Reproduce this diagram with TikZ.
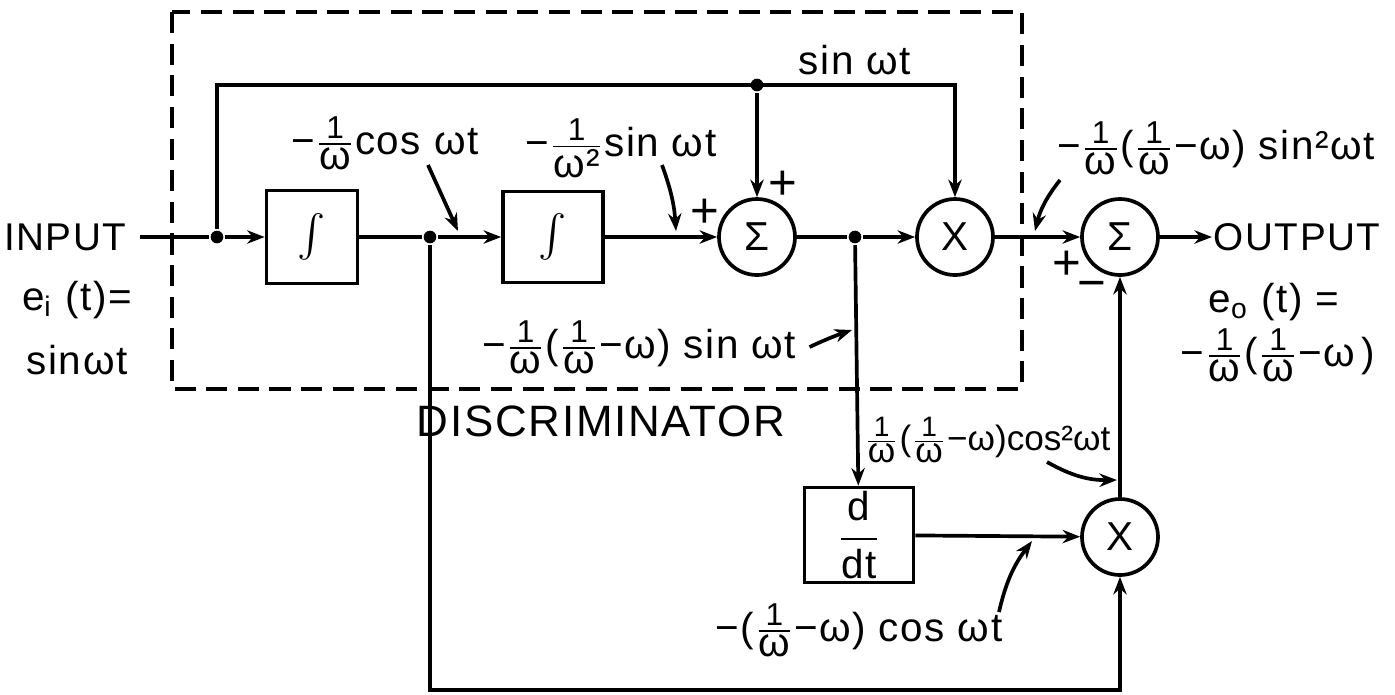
\documentclass[tikz,border=0pt]{standalone}
\usepackage{amsmath}
\usepackage{fontspec}
\setmainfont{Liberation Sans}[LetterSpace=4]
\newfontfamily\tightfont{Liberation Sans}
\usetikzlibrary{arrows.meta, shapes.geometric}
\newcommand{\fr}[2]{$\frac{\text{\fontsize{9}{9}\selectfont #1}}{\text{\fontsize{11.5}{12}\selectfont #2}}$}
\newcommand{\frs}[2]{$\frac{\text{\fontsize{8}{9}\selectfont #1}}{\text{\fontsize{10}{11}\selectfont #2}}$}

\begin{document}
\begin{tikzpicture}[x=0.1mm, y=-0.1mm, >={Stealth[length=5pt,width=3.8pt]}, line width=1.05pt,
    font=\fontsize{11.5}{13}\selectfont,
    blockbox/.style={draw, inner sep=0pt},
    opcirc/.style={draw, circle, minimum size=7.6mm, inner sep=0pt},
    dot/.style={circle, fill, inner sep=0pt, minimum size=3.6pt},
    sgn/.style={font=\fontsize{14}{14}\selectfont, inner sep=0pt},
    capstext/.style={font=\fontsize{11}{13}\selectfont}]
    \useasboundingbox (0,0) rectangle (1395,694);

    % discriminator frame
    \draw[line width=0.9pt, dash pattern=on 6pt off 3pt] (172,12) rectangle (1022,389);
    \node[font=\fontsize{12.5}{14}\selectfont] (disc) at (601,421) {DISCRIMINATOR};

    % input side
    \node[capstext, anchor=east] (inp) at (140,237) {INPUT};
    \node (eil) at (77,300) {e\textsubscript{i} (t)=};
    \node (eis) at (77,360) {sinωt};

    \node[dot] (j1) at (217,237) {};
    \node[blockbox, minimum width=9.1mm, minimum height=9.3mm] (int1) at (312,237) {\large$\int$};
    \node[dot] (j2) at (430,237) {};
    \node[blockbox, minimum width=10mm, minimum height=9.1mm] (int2) at (553,237) {\large$\int$};
    \node[opcirc] (sum1) at (757,237) {Σ};
    \node[dot] (tj) at (757,85) {};
    \coordinate (tc) at (955,85);
    \node[dot] (j3) at (855,237) {};
    \node[opcirc] (mul1) at (955,237) {X};
    \node[opcirc] (sum2) at (1120,237) {Σ};
    \node[blockbox, minimum width=10.9mm, minimum height=9.5mm] (ddt) at (859,535) {$\displaystyle\frac{\text{d}}{\text{dt}}$};
    \node[opcirc] (mul2) at (1120,537) {X};
    \coordinate (bc) at (1120,690);

    % output side
    \node[capstext, anchor=west, inner sep=0pt] (outp) at (1212,237) {OUTPUT};
    \node (eol) at (1274,302) {e\textsubscript{o} (t) =};
    \node (eos) at (1278,355) {−\fr{1}{ω}(\fr{1}{ω}−ω\,)};

    % signs
    \node[sgn] (s1) at (705,213) {+};
    \node[sgn] (s2) at (783,185) {+};
    \node[sgn] (s3) at (1067,265) {+};
    \node[sgn] (s4) at (1092,290) {−};

    % signal paths
    \draw (inp) -- (j1);
    \draw[->] (j1) -- (int1);
    \draw[->] (j1) |- (tc) -- (mul1);
    \draw[->] (tj) -- (sum1);
    \draw (int1) -- (j2);
    \draw[->] (j2) -- (int2);
    \draw[->] (int2) -- (sum1);
    \draw (sum1) -- (j3);
    \draw[->] (j3) -- (mul1);
    \draw[->] (mul1) -- (sum2);
    \draw[->] (sum2) -- (outp);
    \draw[->] (j3) -- (ddt);
    \draw[->] (ddt) -- (mul2);
    \draw[->] (mul2) -- (sum2);
    \draw[->] (j2) |- (bc) -- (mul2);

    % signal labels
    \node (lcos) at (385,143) {−\fr{1}{ω}cos ωt};
    \coordinate (pcos) at (428,165);
    \coordinate (qcos) at (458,231);
    \draw[->] (pcos) -- (qcos);

    \node (lsin) at (621,148) {−\fr{1}{ω²}sin ωt};
    \coordinate (psin) at (662,165);
    \coordinate (qsin) at (676,231);
    \draw[->] (psin) to[bend left=8] (qsin);

    \node (ltop) at (855,60) {sin ωt};

    \node (lsq) at (1216,148) {−\fr{1}{ω}(\fr{1}{ω}−ω) sin²ωt};
    \coordinate (psq) at (1060,180);
    \coordinate (qsq) at (1035,231);
    \draw[->] (psq) to[bend right=12] (qsq);

    \node (lmid) at (639,347) {−\fr{1}{ω}(\fr{1}{ω}−ω) sin ωt};
    \coordinate (qmid) at (852,330);
    \draw[->] (lmid.east) to[bend left=3] (qmid);

    \node[font=\tightfont\fontsize{10}{12}\selectfont, inner sep=1pt] (lcsq) at (987,440) {\frs{1}{ω}(\frs{1}{ω}−ω)cos²ωt};
    \coordinate (pcsq) at (1047,462);
    \coordinate (qcsq) at (1117,480);
    \draw[->] (pcsq) to[bend right=15] (qcsq);

    \node (lcw) at (859,630) {−(\fr{1}{ω}−ω) cos ωt};
    \coordinate (pcw) at (999,612);
    \coordinate (qcw) at (1032,541);
    \draw[->] (pcw) to[bend left=12] (qcw);
\end{tikzpicture}
\end{document}
